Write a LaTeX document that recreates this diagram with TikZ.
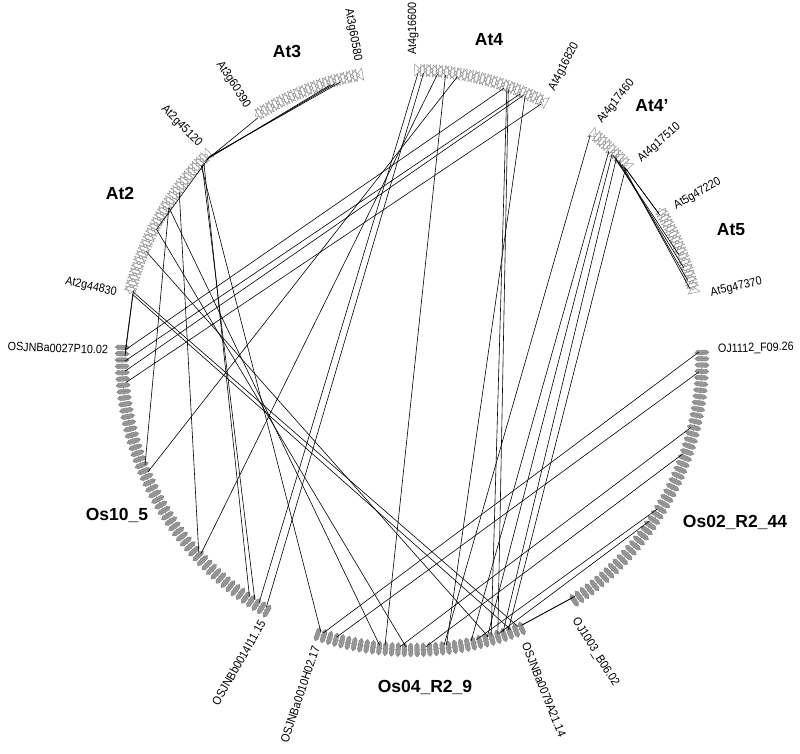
\documentclass[tikz,border=0pt]{standalone}
\usepackage{fontspec}
\setmainfont{Liberation Sans}
\definecolor{atline}{HTML}{8C8C8C}
\definecolor{osfill}{HTML}{9C9C9C}
\definecolor{osline}{HTML}{767676}
\newcommand{\narrowtxt}[1]{\scalebox{0.9}[1]{#1}}
\begin{document}
\begin{tikzpicture}[x=1pt,y=1pt,
  atg/.style={draw=atline,fill=white,fill opacity=0,line width=0.45pt},
  osg/.style={draw=osline,fill=osfill,line width=0.4pt},
  link/.style={draw=black,line width=0.6pt},
  lab/.style={font=\fontsize{12}{13}\selectfont,inner sep=0pt},
  chr/.style={font=\fontsize{17.5}{20}\selectfont\bfseries,inner sep=0pt}]
\useasboundingbox (0,0) rectangle (800,754);
\begin{scope}[shift={(412,394)}]
% Arabidopsis segments (white arrow glyphs)
\foreach \st/\n in {99.8/36, 134.3/52, 62.4/43, 41.5/15, 13.4/28} {
  \foreach \i in {0,...,\n} {
    \pgfmathsetmacro\a{\st+\i*0.6}
    \pgfmathsetmacro\d{ifthenelse(mod(\i,2)==0,1.3,-1.3)}
    \pgfmathsetmacro\b{ifthenelse(mod(\i,2)==0,\a,\a+1.3)}
    \draw[atg] (\b:284) -- (\b:296) -- ({\b+\d}:290) -- cycle;
  }
}
% Rice segments (grey glyphs)
\foreach \st/\en/\n in {-56/1.5/46, -109/-67.75/33, 177.5/240/50} {
  \draw[osline,line width=0.4pt] (\st:290) arc[start angle=\st,end angle=\en,radius=290];
  \foreach \i in {0,...,\n} {
    \pgfmathsetmacro\a{\st+\i*1.25}
    \draw[osg] (\a:283) -- ({\a+0.43}:285.5) -- ({\a+0.43}:294.5) -- (\a:297) -- ({\a-0.43}:294.5) -- ({\a-0.43}:285.5) -- cycle;
    \draw[osline,line width=0.3pt] (\a:284.5) -- (\a:295.5);
  }
}
% connectors
\foreach \i/\s/\t in {1/104.4/134.8, 2/105.5/135.2, 3/106.5/135.6, 4/122.5/136.0,
  5/152.9/134.6, 6/136.5/235.5, 7/137.0/236.8, 8/144.2/222.0, 9/147.9/201.5,
  10/166.5/178.3, 11/166.0/179.2, 12/137.3/-108.5, 13/147.9/-96.5, 14/152.9/-91.2,
  15/157.8/-74.6, 16/166.8/-69.9, 17/166.3/-68.3, 18/88.8/237.8, 19/87.7/239.5,
  20/84.9/222.6, 21/80.9/203.0, 22/71.3/178.0, 23/67.9/180.2, 24/67.2/182.2,
  25/63.2/184.5, 26/83.3/-95.4, 27/70.7/-74.0, 28/70.4/-72.6, 29/66.8/-83.1,
  30/51.6/-83.6, 31/46.7/-78.1, 32/45.8/-74.8, 33/44.6/-71.5, 34/41.9/-70.4,
  35/42.3/30.8, 36/42.0/30.4, 37/45.5/21.4, 38/44.9/18.7, 39/43.9/16.1, 40/42.9/14.3,
  41/1.6/-108.0, 42/-2.4/-105.2, 43/-13.6/-92.4, 44/-19.0/-87.2, 45/-31.3/-77.0,
  46/-34.1/-72.4, 47/-55.3/-67.3, 48/-55.8/-67.6} {
  \coordinate (s\i) at (\s:287);
  \coordinate (t\i) at (\t:287);
  \draw[link] (s\i) -- (t\i);
}
% gene labels
\node[lab,anchor=east,rotate=-79.7] (g1) at (100.3:304) {\narrowtxt{At3g60580}};
\node[lab,anchor=east,rotate=-57] (g2) at (123:302) {\narrowtxt{At3g60390}};
\node[lab,anchor=east,rotate=-45.4] (g3) at (134.6:302) {\narrowtxt{At2g45120}};
\node[lab,anchor=east,rotate=-12.8] (g4) at (167.2:303) {\narrowtxt{At2g44830}};
\node[lab,anchor=east,rotate=-1.9] (g5) at (178.1:304) {\narrowtxt{OSJNBa0027P10.02}};
\node[lab,anchor=east,rotate=60.2] (g6) at (240.2:301) {\narrowtxt{OSJNBb0014I11.15}};
\node[lab,anchor=east,rotate=71.5] (g7) at (251.5:302) {\narrowtxt{OSJNBa0010H02.17}};
\node[lab,anchor=west,rotate=-68.2] (g8) at (-68.2:305) {\narrowtxt{OSJNBa0079A21.14}};
\node[lab,anchor=west,rotate=-57.9] (g9) at (-57.9:306) {\narrowtxt{OJ1003\_B06.02}};
\node[lab,anchor=west,rotate=1.9] (g10) at (1.9:306) {\narrowtxt{OJ1112\_F09.26}};
\node[lab,anchor=west,rotate=12.6] (g11) at (12.6:306) {\narrowtxt{At5g47370}};
\node[lab,anchor=west,rotate=30.2] (g12) at (30.2:304) {\narrowtxt{At5g47220}};
\node[lab,anchor=west,rotate=41.3] (g13) at (41.3:303) {\narrowtxt{At4g17510}};
\node[lab,anchor=west,rotate=51.7] (g14) at (51.7:303) {\narrowtxt{At4g17460}};
\node[lab,anchor=west,rotate=62.6] (g15) at (62.6:304) {\narrowtxt{At4g16820}};
\node[lab,anchor=west,rotate=89.8] (g16) at (89.8:305) {\narrowtxt{At4g16600}};
\end{scope}
% segment names
\node[chr] (c1) at (287,702) {At3};
\node[chr] (c2) at (489,714) {At4};
\node[chr] (c3) at (652,648) {At4’};
\node[chr] (c4) at (731,524) {At5};
\node[chr] (c5) at (120,561) {At2};
\node[chr] (c6) at (117,239) {Os10\_5};
\node[chr] (c7) at (735,232) {Os02\_R2\_44};
\node[chr] (c8) at (425,67) {Os04\_R2\_9};
\end{tikzpicture}
\end{document}
